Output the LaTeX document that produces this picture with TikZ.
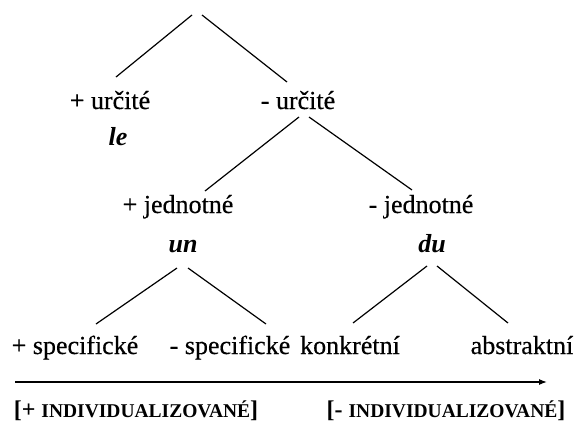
\documentclass[tikz,border=0pt]{standalone}
\usepackage{fontspec}
\setmainfont{Liberation Serif}
\newfontfamily\featfont[FakeBold=0.4]{Liberation Serif}
\usetikzlibrary{arrows.meta}
\newcommand{\smallcapsword}[1]{{\fontsize{19.5}{22}\selectfont #1}}
\tikzset{
  feat/.style={inner sep=0pt, anchor=base, font=\featfont\fontsize{26}{30}\selectfont},
  morph/.style={inner sep=0pt, anchor=base, font=\fontsize{26}{30}\selectfont\bfseries\itshape},
  branch/.style={line width=1.2pt},
  scalelabel/.style={inner sep=0pt, anchor=base, font=\fontsize{24}{28}\selectfont\bfseries},
  axis/.style={line width=1.2pt, -{Latex[length=8pt,width=6pt]}}
}
\begin{document}
\begin{tikzpicture}[x=1pt,y=-1pt]
  \useasboundingbox (0,0) rectangle (577,426);
  % top of the tree
  \coordinate (root) at (197,15);
  % first level: determinacy
  \node[feat] (pu) at (110,109) {+ určité};
  \node[morph] (le) at (118,145) {le};
  \node[feat] (mu) at (298,109) {- určité};
  % second level: number
  \node[feat] (pj) at (178,213) {+ jednotné};
  \node[morph] (un) at (183,252) {un};
  \node[feat] (mj) at (421,213) {- jednotné};
  \node[morph] (du) at (432,252) {du};
  % third level
  \node[feat] (ps) at (75,354) {+ specifické};
  \node[feat] (ms) at (230,354) {- specifické};
  \node[feat] (ko) at (350,354) {konkrétní};
  \node[feat] (ab) at (522,354) {abstraktní};
  % branches
  \draw[branch] ([xshift=-5pt]root) -- ([shift={(6,-32)}]pu.base);
  \draw[branch] ([xshift=5pt]root) -- ([shift={(-11,-27)}]mu.base);
  \draw[branch] ([shift={(1,8)}]mu.base) -- ([shift={(27,-22)}]pj.base);
  \draw[branch] ([shift={(11,8)}]mu.base) -- ([shift={(-9,-23)}]mj.base);
  \draw[branch] ([shift={(-6,16)}]un.base) -- ([shift={(21,-30)}]ps.base);
  \draw[branch] ([shift={(5,16)}]un.base) -- ([shift={(36,-30)}]ms.base);
  \draw[branch] ([shift={(-5,14)}]du.base) -- ([shift={(3,-31)}]ko.base);
  \draw[branch] ([shift={(5,14)}]du.base) -- ([shift={(-14,-31)}]ab.base);
  % scale of individualisation
  \coordinate (axl) at (15,382);
  \coordinate (axr) at (547,382);
  \draw[axis] (axl) -- (axr);
  \node[scalelabel] (plus) at (136,417) {[+ \smallcapsword{INDIVIDUALIZOVANÉ}]};
  \node[scalelabel] (minus) at (446,417) {[- \smallcapsword{INDIVIDUALIZOVANÉ}]};
\end{tikzpicture}
\end{document}
